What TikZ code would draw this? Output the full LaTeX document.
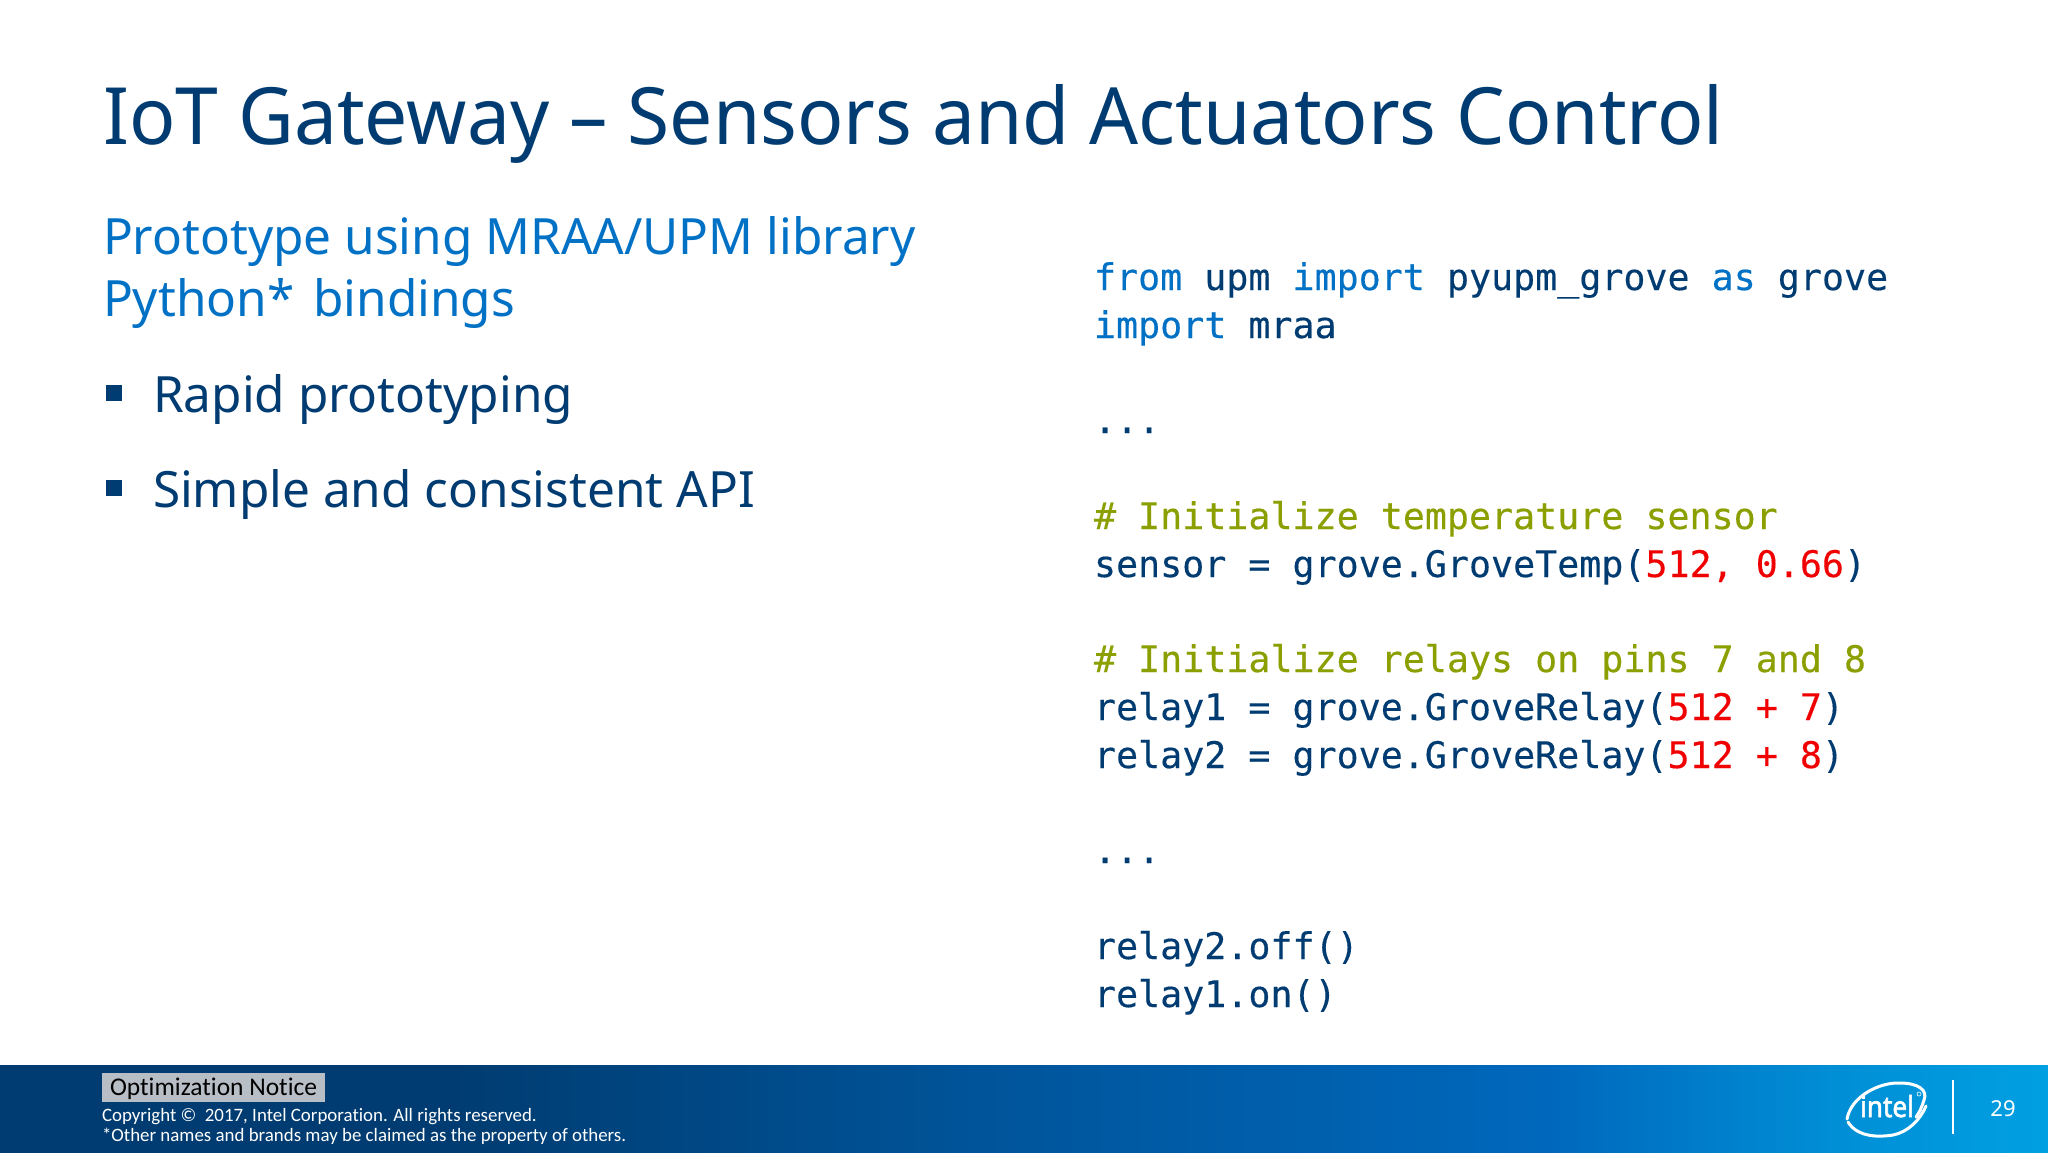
\documentclass[tikz,border=0pt]{standalone}
\usepackage{fontspec}
\setmainfont{Noto Sans}
\newfontfamily\titlefont{Noto Sans}[FakeStretch=0.972]
\newfontfamily\bodyfont{Noto Sans}[FakeStretch=0.99]
\newfontfamily\logofont{Noto Sans}[FakeStretch=0.9,FakeBold=2]
\newfontfamily\codefont{DejaVu Sans Mono}[FakeBold=0.3]
\newfontfamily\footfont{Carlito}[Ligatures=NoCommon]
\definecolor{navy}{HTML}{003C71}
\definecolor{iblue}{HTML}{0071C5}
\definecolor{cgreen}{HTML}{8C9F00}
\definecolor{cred}{HTML}{F00000}
\definecolor{foota}{HTML}{00559B}
\definecolor{footb}{HTML}{0068BC}
\definecolor{footc}{HTML}{008ED5}
\definecolor{footd}{HTML}{00A0E2}
\definecolor{noticegray}{HTML}{B8BEC6}
\pgfdeclarehorizontalshading{footgrad}{100bp}{color(0bp)=(navy); color(36bp)=(navy); color(49.4bp)=(foota); color(62.8bp)=(footb); color(69.7bp)=(footc); color(75bp)=(footd); color(100bp)=(footd)}
\newcommand{\kw}[1]{\textcolor{iblue}{#1}}
\newcommand{\num}[1]{\textcolor{cred}{#1}}
\tikzset{
 x=0.5pt,y=-0.5pt,
 txt/.style={anchor=base west,inner sep=0pt,outer sep=0pt},
 titletext/.style={txt,text=navy,font=\titlefont\fontsize{39.5pt}{40pt}\selectfont},
 subtext/.style={txt,text=iblue,font=\bodyfont\fontsize{25pt}{26pt}\selectfont},
 bullettext/.style={txt,text=navy,font=\bodyfont\fontsize{25pt}{26pt}\selectfont},
 bulletbox/.style={fill=navy,draw=none,minimum size=8pt,inner sep=0pt},
 codeline/.style={txt,text=navy,font=\codefont\fontsize{18.32pt}{20pt}\selectfont},
 commentline/.style={codeline,text=cgreen},
 foot/.style={txt,text=white,font=\footfont\fontsize{9.45pt}{10pt}\selectfont},
 logostroke/.style={draw=white,line cap=round,line width=1.5pt},
}
\begin{document}
\begin{tikzpicture}
\useasboundingbox (0,0) rectangle (2048,1152);
\fill[white] (0,0) rectangle (2048,1152);
\shade[shading=footgrad] (0,1065) rectangle (2048,1152);
\node[titletext] (title) at (103,144) {IoT Gateway – Sensors and Actuators Control};
\node[subtext] (sub1) at (103,254.5) {Prototype using MRAA/UPM library};
\node[subtext] (sub2) at (103,316.5) {Python*\hspace{-3.4pt}\ \ bindings};
\node[bulletbox] (b1) at (114,393) {};
\node[bulletbox] (b2) at (114,488) {};
\node[bullettext] (t1) at (153,412) {Rapid prototyping};
\node[bullettext] (t2) at (153,507) {Simple and consistent API};
\node[codeline] (c0) at (1094,290) {\kw{from} upm \kw{import} pyupm\_grove \kw{as} grove};
\node[codeline] (c1) at (1094,338) {\kw{import} mraa};
\node[codeline] (c3) at (1094,433) {...};
\node[commentline] (c5) at (1094,529) {\# Initialize temperature sensor};
\node[codeline] (c6) at (1094,577) {sensor = grove.GroveTemp(\num{512, 0.66})};
\node[commentline] (c8) at (1094,672) {\# Initialize relays on pins 7 and 8};
\node[codeline] (c9) at (1094,720) {relay1 = grove.GroveRelay(\num{512 + 7})};
\node[codeline] (c10) at (1094,768) {relay2 = grove.GroveRelay(\num{512 + 8})};
\node[codeline] (c12) at (1094,863) {...};
\node[codeline] (c14) at (1094,959) {relay2.off()};
\node[codeline] (c15) at (1094,1007) {relay1.on()};
\fill[noticegray] (102,1073) rectangle (325,1102);
\node[txt,text=black,font=\footfont\fontsize{12.75pt}{13pt}\selectfont] (notice) at (110,1095) {Optimization Notice};
\node[foot] (copy) at (102,1121) {Copyright ©\ \ 2017, Intel Corporation. All rights reserved.};
\node[foot] (others) at (102,1141) {*Other names and brands may be claimed as the property of others.};
\draw[logostroke] (1847,1119) .. controls (1851,1096) and (1880,1082) .. (1900,1083) .. controls (1918,1083) and (1928,1090) .. (1924,1100) .. controls (1922,1107) and (1919,1113) .. (1916,1117);
\draw[logostroke] (1848,1122) .. controls (1858,1138) and (1880,1137) .. (1893,1135) .. controls (1908,1132) and (1920,1120) .. (1926,1106);
\node[anchor=base,inner sep=0pt,text=white,font=\logofont\fontsize{14.5pt}{15pt}\selectfont] (logo) at (1887,1117) {intel};
\node[circle,draw=white,line width=0.3pt,inner sep=0pt,minimum size=2pt] (reg) at (1919,1094) {};
\draw[white,line width=1pt] (1953,1080) -- (1953,1134);
\node[anchor=center,inner sep=0pt,text=white,font=\fontsize{11pt}{12pt}\selectfont] (page) at (2003,1109) {29};
\end{tikzpicture}
\end{document}
